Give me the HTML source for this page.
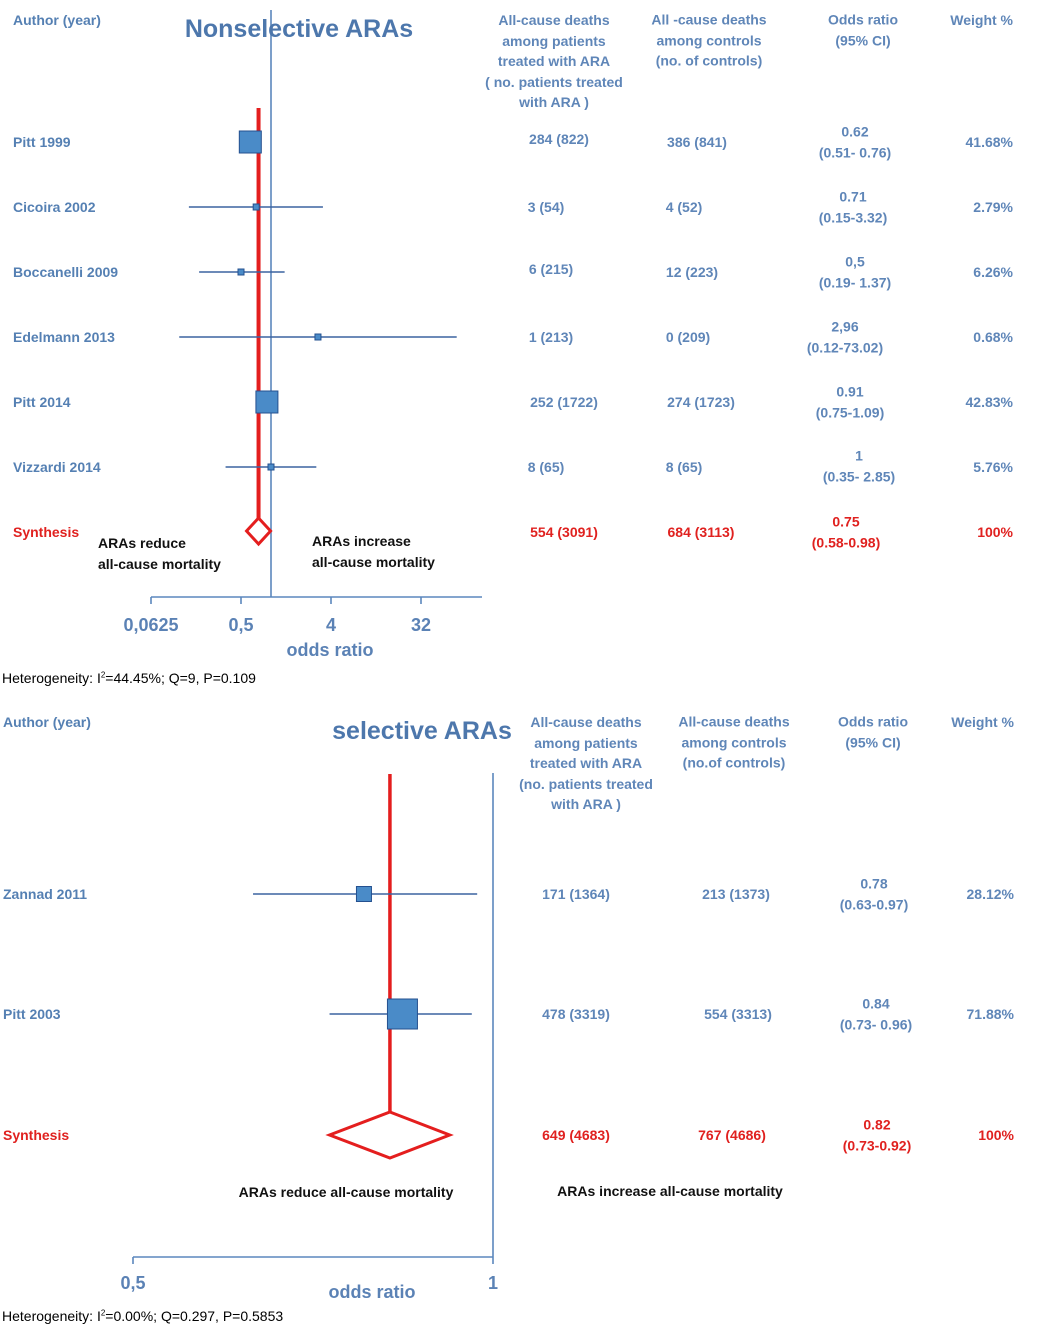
<!DOCTYPE html>
<html><head><meta charset="utf-8">
<style>
body{margin:0;width:1040px;height:1335px;background:#fff;position:relative;overflow:hidden;font-family:"Liberation Sans",sans-serif;}
.t{position:absolute;transform:translate(-50%,-50%);white-space:nowrap;color:#5f86b8;font-size:14px;font-weight:bold;text-align:center;line-height:20.5px;}
.l{position:absolute;transform:translateY(-50%);white-space:nowrap;color:#5580b3;font-size:14px;font-weight:bold;}
.r{position:absolute;transform:translate(-100%,-50%);white-space:nowrap;color:#5f86b8;font-size:14px;font-weight:bold;}
.red{color:#e0211f !important;font-weight:bold;}
.blk{color:#111 !important;font-size:14px;}
.hd{color:#4d77ac;font-weight:bold;font-size:25px;}
.ax{color:#5b82b5;font-weight:bold;font-size:18px;}
.foot{position:absolute;left:2px;font-size:14px;color:#000;}
svg{position:absolute;left:0;top:0;}
</style></head><body>
<svg id="plot" width="1040" height="1335"></svg>

<!-- TOP PANEL -->
<div class="l" style="left:13px;top:20px">Author (year)</div>
<div class="t hd" style="left:299px;top:29px">Nonselective ARAs</div>
<div class="t" style="left:554px;top:61px">All-cause deaths<br>among patients<br>treated with ARA<br>( no. patients treated<br>with ARA )</div>
<div class="t" style="left:709px;top:40px">All -cause deaths<br>among controls<br>(no. of controls)</div>
<div class="t" style="left:863px;top:30px">Odds ratio<br>(95% CI)</div>
<div class="r" style="left:1013px;top:20px">Weight %</div>

<div class="l" style="left:13px;top:142px">Pitt 1999</div>
<div class="l" style="left:13px;top:207px">Cicoira 2002</div>
<div class="l" style="left:13px;top:272px">Boccanelli 2009</div>
<div class="l" style="left:13px;top:337px">Edelmann 2013</div>
<div class="l" style="left:13px;top:402px">Pitt 2014</div>
<div class="l" style="left:13px;top:467px">Vizzardi 2014</div>
<div class="l red" style="left:13px;top:532px">Synthesis</div>

<div class="t" style="left:559px;top:139px">284 (822)</div>
<div class="t" style="left:546px;top:207px">3 (54)</div>
<div class="t" style="left:551px;top:269px">6 (215)</div>
<div class="t" style="left:551px;top:337px">1 (213)</div>
<div class="t" style="left:564px;top:402px">252 (1722)</div>
<div class="t" style="left:546px;top:467px">8 (65)</div>
<div class="t red" style="left:564px;top:532px">554 (3091)</div>

<div class="t" style="left:697px;top:142px">386 (841)</div>
<div class="t" style="left:684px;top:207px">4 (52)</div>
<div class="t" style="left:692px;top:272px">12 (223)</div>
<div class="t" style="left:688px;top:337px">0 (209)</div>
<div class="t" style="left:701px;top:402px">274 (1723)</div>
<div class="t" style="left:684px;top:467px">8 (65)</div>
<div class="t red" style="left:701px;top:532px">684 (3113)</div>

<div class="t" style="left:855px;top:142px">0.62<br>(0.51- 0.76)</div>
<div class="t" style="left:853px;top:207px">0.71<br>(0.15-3.32)</div>
<div class="t" style="left:855px;top:272px">0,5<br>(0.19- 1.37)</div>
<div class="t" style="left:845px;top:337px">2,96<br>(0.12-73.02)</div>
<div class="t" style="left:850px;top:402px">0.91<br>(0.75-1.09)</div>
<div class="t" style="left:859px;top:466px">1<br>(0.35- 2.85)</div>
<div class="t red" style="left:846px;top:532px">0.75<br>(0.58-0.98)</div>

<div class="r" style="left:1013px;top:142px">41.68%</div>
<div class="r" style="left:1013px;top:207px">2.79%</div>
<div class="r" style="left:1013px;top:272px">6.26%</div>
<div class="r" style="left:1013px;top:337px">0.68%</div>
<div class="r" style="left:1013px;top:402px">42.83%</div>
<div class="r" style="left:1013px;top:467px">5.76%</div>
<div class="r red" style="left:1013px;top:532px">100%</div>

<div class="l blk" style="left:98px;top:554px;line-height:21px">ARAs reduce<br>all-cause mortality</div>
<div class="l blk" style="left:312px;top:552px;line-height:21px">ARAs increase<br>all-cause mortality</div>
<div class="t ax" style="left:151px;top:625px">0,0625</div>
<div class="t ax" style="left:241px;top:625px">0,5</div>
<div class="t ax" style="left:331px;top:625px">4</div>
<div class="t ax" style="left:421px;top:625px">32</div>
<div class="t ax" style="left:330px;top:650px">odds ratio</div>
<div class="foot" style="top:670px">Heterogeneity: I<sup style="font-size:8px">2</sup>=44.45%; Q=9, P=0.109</div>

<!-- BOTTOM PANEL -->
<div class="l" style="left:3px;top:722px">Author (year)</div>
<div class="t hd" style="left:422px;top:731px">selective ARAs</div>
<div class="t" style="left:586px;top:763px">All-cause deaths<br>among patients<br>treated with ARA<br>(no. patients treated<br>with ARA )</div>
<div class="t" style="left:734px;top:742px">All-cause deaths<br>among controls<br>(no.of controls)</div>
<div class="t" style="left:873px;top:732px">Odds ratio<br>(95% CI)</div>
<div class="r" style="left:1014px;top:722px">Weight %</div>

<div class="l" style="left:3px;top:894px">Zannad 2011</div>
<div class="l" style="left:3px;top:1014px">Pitt 2003</div>
<div class="l red" style="left:3px;top:1135px">Synthesis</div>

<div class="t" style="left:576px;top:894px">171 (1364)</div>
<div class="t" style="left:576px;top:1014px">478 (3319)</div>
<div class="t red" style="left:576px;top:1135px">649 (4683)</div>
<div class="t" style="left:736px;top:894px">213 (1373)</div>
<div class="t" style="left:738px;top:1014px">554 (3313)</div>
<div class="t red" style="left:732px;top:1135px">767 (4686)</div>
<div class="t" style="left:874px;top:894px">0.78<br>(0.63-0.97)</div>
<div class="t" style="left:876px;top:1014px">0.84<br>(0.73- 0.96)</div>
<div class="t red" style="left:877px;top:1135px">0.82<br>(0.73-0.92)</div>
<div class="r" style="left:1014px;top:894px">28.12%</div>
<div class="r" style="left:1014px;top:1014px">71.88%</div>
<div class="r red" style="left:1014px;top:1135px">100%</div>

<div class="t blk" style="left:346px;top:1192px;font-size:14px">ARAs reduce all-cause mortality</div>
<div class="t blk" style="left:670px;top:1191px;font-size:14px">ARAs increase all-cause mortality</div>
<div class="t ax" style="left:133px;top:1283px">0,5</div>
<div class="t ax" style="left:493px;top:1283px">1</div>
<div class="t ax" style="left:372px;top:1292px">odds ratio</div>
<div class="foot" style="top:1308px">Heterogeneity: I<sup style="font-size:8px">2</sup>=0.00%; Q=0.297, P=0.5853</div>

<script>
// Top panel data
const topStudies = ["Pitt 1999","Cicoira 2002","Boccanelli 2009","Edelmann 2013","Pitt 2014","Vizzardi 2014"];
const topOR = [0.62,0.71,0.5,2.96,0.91,1];
const topLow = [0.51,0.15,0.19,0.12,0.75,0.35];
const topHigh = [0.76,3.32,1.37,73.02,1.09,2.85];
const topWeight = [41.68,2.79,6.26,0.68,42.83,5.76];
const topPooled = [0.75,0.58,0.98];
const topTicks = [0.0625,0.5,4,32];
// Bottom panel data
const botStudies = ["Zannad 2011","Pitt 2003"];
const botOR = [0.78,0.84];
const botLow = [0.63,0.73];
const botHigh = [0.97,0.96];
const botWeight = [28.12,71.88];
const botPooled = [0.82,0.73,0.92];
const botTicks = [0.5,1];

const NS='http://www.w3.org/2000/svg';
const svg=document.getElementById('plot');
function mk(tag,attrs){const e=document.createElementNS(NS,tag);for(const k in attrs)e.setAttribute(k,attrs[k]);svg.appendChild(e);return e;}
const xTop=v=>241+30*Math.log2(v/0.5);
const xBot=v=>133+360*Math.log2(v/0.5);
const BLUE='#5b87bd', RED='#e41e1e';

let e;
e=mk('line',{x1:xTop(1),y1:10,x2:xTop(1),y2:597,stroke:BLUE,'stroke-width':1.6});


e=mk('line',{x1:151,y1:597,x2:482,y2:597,stroke:BLUE,'stroke-width':1.6});


topTicks.forEach(t=>{const l=mk('line',{x1:xTop(t),y1:597,x2:xTop(t),y2:604,stroke:BLUE,'stroke-width':1.6});

});
e=mk('line',{x1:xTop(topPooled[0]),y1:108,x2:xTop(topPooled[0]),y2:519,stroke:RED,'stroke-width':4});


const rowYTop=i=>142+65*i;
topOR.forEach((v,i)=>{
  const y=rowYTop(i);
  const ci=mk('line',{x1:xTop(topLow[i]),y1:y,x2:xTop(topHigh[i]),y2:y,stroke:'#3c64a0','stroke-width':1.4});
  
  
  const s=topWeight[i]>20?22:6;
  const r=mk('rect',{x:xTop(v)-s/2,y:y-s/2,width:s,height:s,fill:'#4a8bc8',stroke:'#24508f','stroke-width':1});
  
  
});
{const cx=xTop(topPooled[0]),cy=531,hw=12,hh=13;
e=mk('polygon',{points:`${cx},${cy-hh} ${cx+hw},${cy} ${cx},${cy+hh} ${cx-hw},${cy}`,fill:'#fff',stroke:RED,'stroke-width':3});

}

e=mk('line',{x1:xBot(1),y1:773,x2:xBot(1),y2:1257,stroke:BLUE,'stroke-width':1.6});


e=mk('line',{x1:133,y1:1257,x2:493,y2:1257,stroke:BLUE,'stroke-width':1.6});


botTicks.forEach(t=>{const l=mk('line',{x1:xBot(t),y1:1257,x2:xBot(t),y2:1264,stroke:BLUE,'stroke-width':1.6});

});
e=mk('line',{x1:xBot(botPooled[0]),y1:774,x2:xBot(botPooled[0]),y2:1112,stroke:RED,'stroke-width':3.5});


const rowYBot=i=>894+120*i;
botOR.forEach((v,i)=>{
  const y=rowYBot(i);
  const ci=mk('line',{x1:xBot(botLow[i]),y1:y,x2:xBot(botHigh[i]),y2:y,stroke:'#3c64a0','stroke-width':1.4});
  
  
  const s=botWeight[i]>50?30:15;
  const r=mk('rect',{x:xBot(v)-s/2,y:y-s/2,width:s,height:s,fill:'#4a8bc8',stroke:'#24508f','stroke-width':1});
  
  
});
{const cx=xBot(botPooled[0]),cy=1135,hh=23;
e=mk('polygon',{points:`${cx},${cy-hh} ${xBot(botPooled[2])},${cy} ${cx},${cy+hh} ${xBot(botPooled[1])},${cy}`,fill:'#fff',stroke:RED,'stroke-width':3});

}
</script>
</body></html>
